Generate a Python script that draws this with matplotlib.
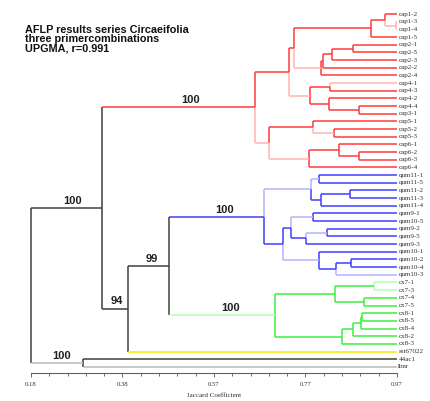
import numpy as np
import matplotlib
matplotlib.use("Agg")
import matplotlib.pyplot as plt

# leaves, top to bottom
leaves = [
    "cap1-2", "cap1-3", "cap1-4", "cap1-5",
    "cap2-1", "cap2-5", "cap2-3", "cap2-2", "cap2-4",
    "cap4-1", "cap4-3", "cap4-2", "cap4-4", "cap3-1",
    "cap5-1", "cap5-2", "cap5-3",
    "cap6-1", "cap6-2", "cap6-3", "cap6-4",
    "qum11-1", "qum11-5", "qum11-2", "qum11-3", "qum11-4",
    "qum9-1", "qum10-5", "qum9-2", "qum9-5", "qum9-3",
    "qum10-1", "qum10-2", "qum10-4", "qum10-3",
    "cx7-1", "cx7-3", "cx7-4", "cx7-5",
    "cx8-1", "cx8-5", "cx8-4", "cx8-2", "cx8-3",
    "sst67022", "44ac1", "lbnr",
]

# (node, child a, child b, jaccard similarity, colour a, colour b)
merges = [
    ("c1a", "cap1-3", "cap1-4", 0.967, "r", "r"),
    ("c1b", "cap1-2", "c1a", 0.944, "R", "r"),
    ("c1", "c1b", "cap1-5", 0.914, "R", "R"),
    ("c2a", "cap2-1", "cap2-5", 0.874, "R", "R"),
    ("c2b", "c2a", "cap2-3", 0.829, "R", "R"),
    ("c2c", "c2b", "cap2-2", 0.810, "R", "R"),
    ("c2", "c2c", "cap2-4", 0.805, "R", "R"),
    ("c12", "c1", "c2", 0.748, "R", "r"),
    ("c4a", "cap4-1", "cap4-3", 0.825, "r", "R"),
    ("c4b", "cap4-4", "cap3-1", 0.887, "R", "R"),
    ("c4c", "cap4-2", "c4b", 0.823, "R", "R"),
    ("c4", "c4a", "c4c", 0.783, "R", "R"),
    ("cR1", "c12", "c4", 0.737, "R", "r"),
    ("c5a", "cap5-2", "cap5-3", 0.833, "R", "R"),
    ("c5", "cap5-1", "c5a", 0.789, "R", "r"),
    ("c6a", "cap6-2", "cap6-3", 0.888, "R", "R"),
    ("c6b", "cap6-1", "c6a", 0.845, "R", "R"),
    ("c6", "c6b", "cap6-4", 0.780, "R", "R"),
    ("cR2", "c5", "c6", 0.694, "R", "r"),
    ("cR", "cR1", "cR2", 0.664, "R", "r"),
    ("q11a", "qum11-1", "qum11-5", 0.801, "B", "B"),
    ("q11b", "qum11-2", "qum11-3", 0.868, "B", "B"),
    ("q11c", "q11b", "qum11-4", 0.806, "B", "B"),
    ("q11", "q11a", "q11c", 0.784, "b", "B"),
    ("q9a", "qum9-1", "qum10-5", 0.789, "B", "B"),
    ("q9b", "qum9-2", "qum9-5", 0.819, "B", "B"),
    ("q9", "q9b", "qum9-3", 0.773, "b", "B"),
    ("q9c", "q9a", "q9", 0.741, "b", "B"),
    ("q10a", "qum10-2", "qum10-4", 0.870, "B", "B"),
    ("q10b", "q10a", "qum10-3", 0.838, "B", "b"),
    ("q10", "qum10-1", "q10b", 0.802, "B", "B"),
    ("qB2", "q9c", "q10", 0.723, "B", "b"),
    ("qB", "q11", "qB2", 0.684, "b", "B"),
    ("x7a", "cx7-1", "cx7-3", 0.920, "g", "g"),
    ("x7b", "cx7-4", "cx7-5", 0.899, "G", "G"),
    ("x7", "x7a", "x7b", 0.836, "G", "G"),
    ("x8a", "cx8-1", "cx8-5", 0.895, "G", "G"),
    ("x8b", "x8a", "cx8-4", 0.893, "G", "G"),
    ("x8c", "x8b", "cx8-2", 0.876, "G", "G"),
    ("x8", "x8c", "cx8-3", 0.852, "G", "G"),
    ("xG", "x7", "x8", 0.707, "G", "G"),
    ("n99", "qB", "xG", 0.477, "B", "g"),
    ("n94", "n99", "sst67022", 0.389, "K", "Y"),
    ("nMain", "cR", "n94", 0.333, "R", "K"),
    ("nOut", "44ac1", "lbnr", 0.292, "K", "k"),
    ("root", "nMain", "nOut", 0.180, "K", "k"),
]

backbone = ["n99", "n94", "nMain", "nOut", "root"]

# bootstrap values, shown on the branch leading to the node
bootstrap = {"nMain": 100, "cR": 100, "qB": 100, "n99": 99,
             "n94": 94, "xG": 100, "nOut": 100}

title_lines = ["AFLP results series Circaeifolia",
               "three primercombinations",
               "UPGMA, r=0.991"]

x_min, x_max = 0.18, 0.97
tick_labels = ["0.18", "0.38", "0.57", "0.77", "0.97"]

colors = {"R": "#ff3b3b", "r": "#ffb3b3", "B": "#3f3fff", "b": "#b3b3ff",
          "G": "#3df03d", "g": "#b3ffb3", "Y": "#f2ee00",
          "K": "#404040", "k": "#b8b8b8"}

fig = plt.figure(figsize=(4.30, 4.01), dpi=100)
ax = fig.add_axes([31 / 430, 28 / 401, 366 / 430, 373 / 401])

# node positions
pos = {name: (x_max, i) for i, name in enumerate(leaves)}
for node, a, b, sim, ca, cb in merges:
    pos[node] = (sim, (pos[a][1] + pos[b][1]) / 2)

parent_x = {}
for node, a, b, sim, ca, cb in merges:
    xn, yn = pos[node]
    for child, c in ((a, ca), (b, cb)):
        xc, yc = pos[child]
        parent_x[child] = xn
        vcol = colors["K"] if node in backbone else colors[c]
        ax.plot([xn, xn], [yn, yc], color=vcol, lw=1.1,
                solid_capstyle="butt", clip_on=False)
        ax.plot([xn, xc], [yc, yc], color=colors[c], lw=1.1,
                solid_capstyle="butt", clip_on=False)

for node, val in bootstrap.items():
    xn, yn = pos[node]
    xp = parent_x[node]
    ax.text(xp + 0.58 * (xn - xp), yn - 0.3, str(val), ha="center",
            va="bottom", fontsize=8, fontweight="bold",
            family="Liberation Sans", color="#202020")

for i, name in enumerate(leaves):
    ax.text(x_max + 0.003, i, name, ha="left", va="center",
            fontsize=5, family="Liberation Serif", color="#303030")

ax.set_xlim(x_min, x_max)
ax.set_ylim(46.8, -1.83)
ax.set_yticks([])
for side in ("top", "right", "left"):
    ax.spines[side].set_visible(False)
ax.spines["bottom"].set_color("#606060")
ax.spines["bottom"].set_linewidth(0.8)

ax.set_xticks(np.linspace(x_min, x_max, 5))
ax.set_xticklabels(tick_labels, fontsize=4.8, family="Liberation Serif",
                   color="#303030")
ax.set_xticks(np.linspace(x_min, x_max, 21), minor=True)
ax.tick_params(axis="x", which="major", length=3, width=0.6,
               color="#505050", pad=3.5)
ax.tick_params(axis="x", which="minor", length=1.8, width=0.6,
               color="#505050")
ax.set_xlabel("Jaccard Coefficient", fontsize=5,
              family="Liberation Serif", color="#303030", labelpad=4)

fig.text(25 / 430, 1 - 25 / 401, "\n".join(title_lines), ha="left",
         va="top", fontsize=7.8, fontweight="bold", family="Liberation Sans",
         linespacing=0.9, color="#101010")

fig.savefig("out.png", dpi=100)
